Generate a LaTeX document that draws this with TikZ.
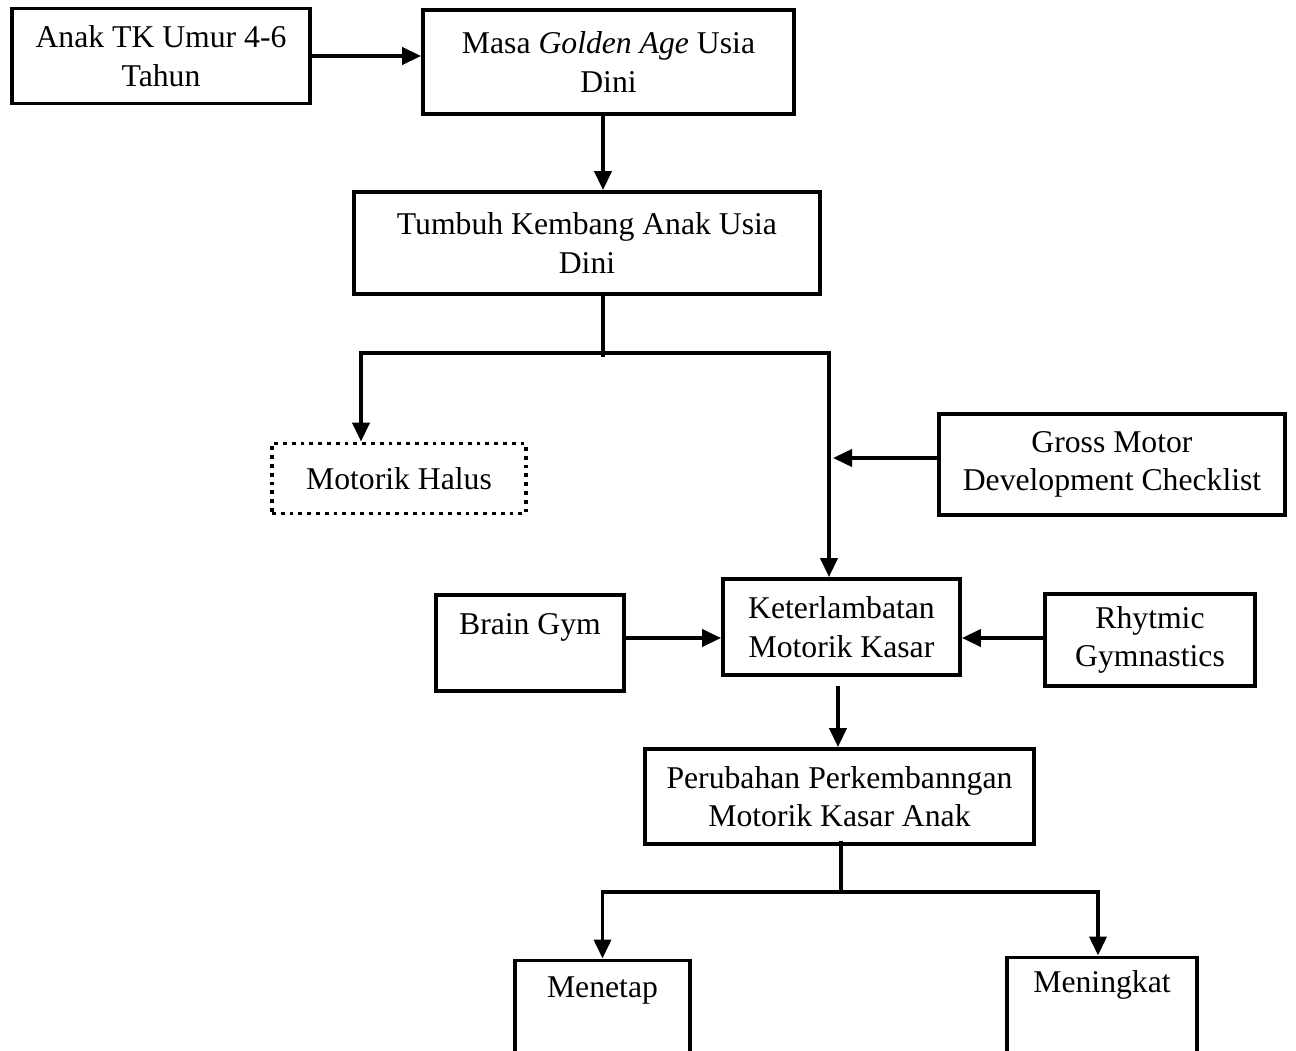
\documentclass[tikz,border=0pt]{standalone}
\usepackage{fontspec}
\setmainfont{Liberation Serif}
\usetikzlibrary{arrows.meta,calc}
\newcommand\diagfont{\fontsize{31.7}{38.5}\selectfont}
\begin{document}
\begin{tikzpicture}[x=1pt,y=-1pt,
  box/.style={draw, line width=3.8pt, line join=miter, rectangle, align=center, inner sep=0pt, font=\diagfont},
  dotbox/.style={box, line cap=butt, dash pattern=on 3.8pt off 5pt},
  txt/.style={inner sep=0pt, font=\diagfont, align=center},
  ln/.style={line width=3.8pt},
  arr/.style={line width=3.8pt, line join=miter, -{Triangle[length=19pt,width=17pt]}}]
\useasboundingbox (0,0) rectangle (1296,1051);
\fill[white] (0,0) rectangle (1296,1051);

\node[box, minimum width=298, minimum height=95] (A) at (161,56) {Anak TK Umur 4-6\\Tahun};
\node[box, minimum width=371, minimum height=104] (B) at (608.5,62) {Masa \textit{Golden Age} Usia\\Dini};
\node[box, minimum width=466, minimum height=102] (C) at (587,243) {Tumbuh Kembang Anak Usia\\Dini};
\node[dotbox, minimum width=254, minimum height=70] (MH) at (399,478.5) {Motorik Halus};
\node[box, minimum width=346, minimum height=101] (GM) at (1112,464.5) {Gross Motor\\Development Checklist};
\node[box, minimum width=188, minimum height=96] (BG) at (530,643) {Brain Gym\\\mbox{}};
\node[box, minimum width=237, minimum height=96] (K) at (841.5,627) {Keterlambatan\\Motorik Kasar};
\node[box, minimum width=210, minimum height=92] (RG) at (1150,640) {Rhytmic\\Gymnastics};
\node[box, minimum width=389, minimum height=95] (P) at (839.5,796.5) {Perubahan Perkembanngan\\Motorik Kasar Anak};

\begin{scope}
\clip (0,0) rectangle (1296,1051);
\node[box, anchor=north, minimum width=175.5, minimum height=130] (MEN) at (602.5,958.5) {};
\node[box, anchor=north, minimum width=190.5, minimum height=130] (MING) at (1102,955.5) {};
\end{scope}
\node[txt] (MENT) at (602.5,990) {Menetap};
\node[txt] (MINGT) at (1102,985) {Meningkat};

\coordinate (jC) at (603,353);
\coordinate (jP) at (841,892);
\coordinate (gmEnd) at (833,458);

\draw[arr] (A.east) -- (A.east -| B.west);
\draw[arr] ([xshift=-5.5pt]B.south) -- ([xshift=-5.5pt]B.south |- C.north);
\draw[ln] (C.south -| jC) -- ([yshift=-4pt]jC);
\draw[arr] (jC) -| ([xshift=-38pt]MH.north);
\draw[arr] (jC) -| ([xshift=-12.5pt]K.north);
\draw[arr] ([yshift=6.5pt]GM.west) -- (gmEnd);
\draw[arr] ([yshift=5pt]BG.east) -- ([yshift=5pt]BG.east -| K.west);
\draw[arr] ([yshift=2pt]RG.west) -- ([yshift=2pt]RG.west -| K.east);
\draw[arr] ([xshift=-3.5pt,yshift=-9pt]K.south) -- ([xshift=-3.5pt]K.south |- P.north);
\draw[ln] ([yshift=5pt]P.south -| jP) -- (jP);
\draw[arr] (jP) -| (MEN.north);
\draw[arr] (jP) -| ([xshift=-4pt]MING.north);
\end{tikzpicture}
\end{document}
